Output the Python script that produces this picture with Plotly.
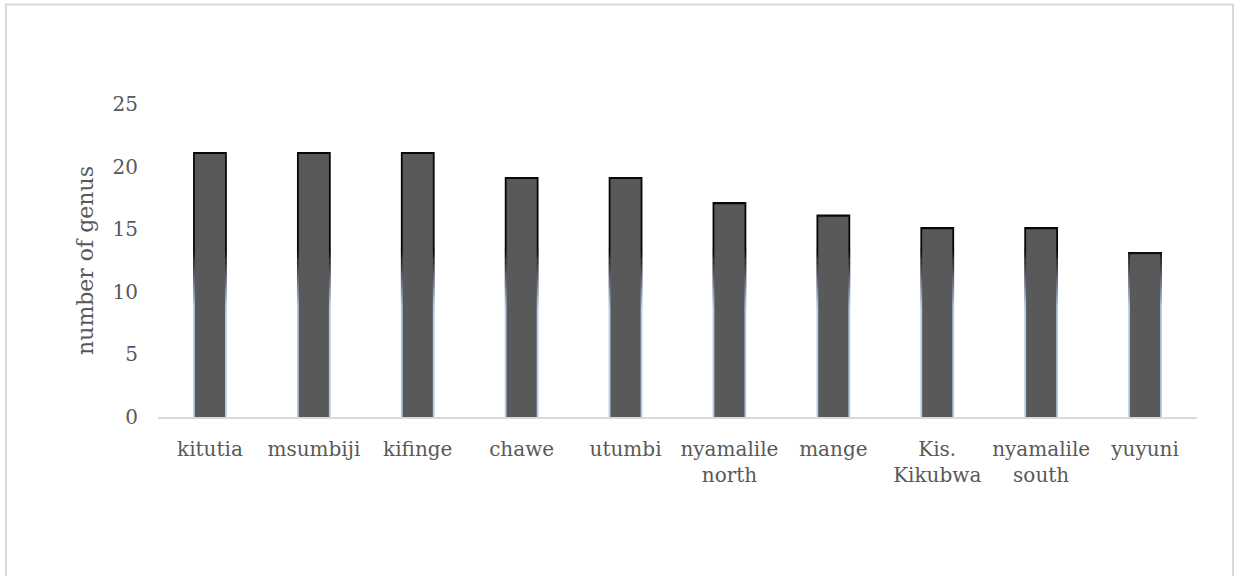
import plotly.graph_objects as go

# Number of genera recorded at each site
sites = ["kitutia", "msumbiji", "kifinge", "chawe", "utumbi",
         "nyamalile<br>north", "mange", "Kis.<br>Kikubwa", "nyamalile<br>south", "yuyuni"]
genus_counts = [21, 21, 21, 19, 19, 17, 16, 15, 15, 13]

y_ticks = [0, 5, 10, 15, 20, 25]

FONT = "DejaVu Serif"
TEXT_GRAY = "#595959"
FILL = "#595959"

# outline styling: a wider bar drawn behind the fill, coloured in vertical
# bands that fade from light blue near the base to black higher up
OUTLINE_W = 0.325
FILL_W = 0.29
TOP_PAD = 0.17
BLUE = (180, 201, 232)
BLACK = (8, 8, 8)
fade_lo, fade_hi, n_steps = 8.8, 13.3, 30


def mix(t):
    r, g, b = (round(BLUE[i] + (BLACK[i] - BLUE[i]) * t) for i in range(3))
    return f"rgb({r},{g},{b})"


edges = [0.0] + [fade_lo + (fade_hi - fade_lo) * k / n_steps for k in range(n_steps + 1)] + [100.0]
fig = go.Figure()
for k in range(len(edges) - 1):
    lo, hi = edges[k], edges[k + 1]
    t = 0.0 if k == 0 else (1.0 if k == len(edges) - 2 else (k - 0.5) / n_steps)
    tops = [v + TOP_PAD for v in genus_counts]
    # small overlap between bands hides anti-aliasing seams
    heights = [max(0.0, min(hi + 0.05, top) - lo) for top in tops]
    fig.add_trace(go.Bar(
        x=sites, y=heights, base=[lo] * len(sites), width=OUTLINE_W,
        marker=dict(color=mix(t), line=dict(width=0)),
        hoverinfo="skip", showlegend=False,
    ))

fig.add_trace(go.Bar(
    x=sites, y=genus_counts, width=FILL_W,
    marker=dict(color=FILL, line=dict(width=0)),
    showlegend=False, name="number of genus",
))

fig.update_layout(
    width=1234, height=576,
    margin=dict(l=158, r=37, t=104, b=159),
    paper_bgcolor="white", plot_bgcolor="white",
    barmode="overlay",
    font=dict(family=FONT, size=20, color=TEXT_GRAY),
    xaxis=dict(
        type="category", showgrid=False, showline=True,
        linecolor="#d9d9d9", linewidth=2,
        ticks="outside", ticklen=13, tickcolor="rgba(0,0,0,0)",
        tickfont=dict(family=FONT, size=20, color=TEXT_GRAY),
    ),
    yaxis=dict(
        range=[0, 25], tickvals=y_ticks, showgrid=False, zeroline=False,
        showline=False, ticks="outside", ticklen=15, tickcolor="rgba(0,0,0,0)",
        tickfont=dict(family=FONT, size=20, color=TEXT_GRAY),
        title=dict(text="number of genus", standoff=12,
                   font=dict(family=FONT, size=22, color=TEXT_GRAY)),
    ),
    shapes=[dict(
        type="rect", xref="paper", yref="paper",
        x0=-0.1463, x1=1.0347, y0=-0.55, y1=1.3179,
        line=dict(color="#d9d9d9", width=2), fillcolor="rgba(0,0,0,0)",
        layer="below",
    )],
)

fig.write_html("out.html")
